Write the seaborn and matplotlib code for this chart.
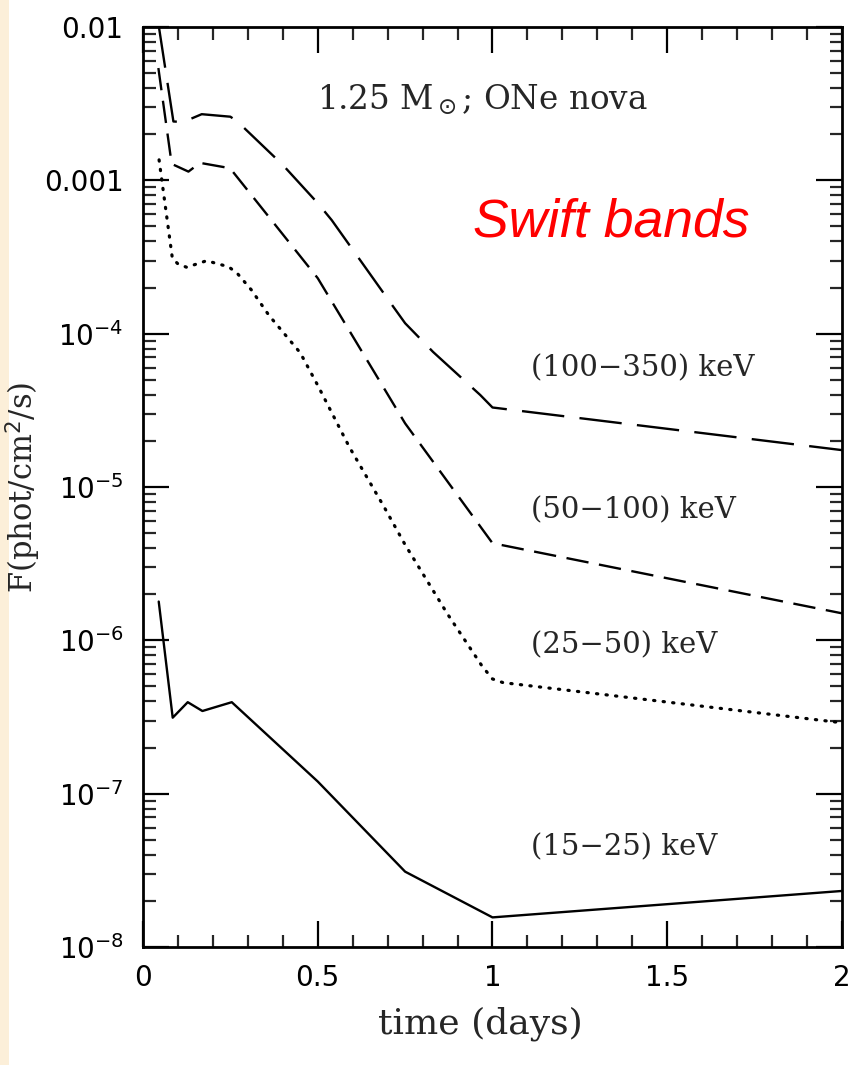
import numpy as np
import pandas as pd
import matplotlib
matplotlib.use("Agg")
import matplotlib.pyplot as plt
import seaborn as sns
from matplotlib.patches import Rectangle
from matplotlib.ticker import FixedLocator, FixedFormatter, MultipleLocator

# ---- data ----
t_hard = [0.045, 0.087, 0.115, 0.168, 0.25, 0.27, 0.40, 0.50, 0.54, 0.716, 0.75, 0.83, 0.965, 1.0, 2.0]
f_hard = [1.02e-2, 2.42e-3, 2.4e-3, 2.7e-3, 2.6e-3, 2.42e-3, 1.26e-3, 7.1e-4, 5.5e-4, 1.5e-4, 1.17e-4, 7.6e-5, 3.98e-5, 3.3e-5, 1.74e-5]

t_mid = [0.044, 0.082, 0.13, 0.163, 0.249, 0.50, 0.75, 1.0, 2.0]
f_mid = [5.4e-3, 1.28e-3, 1.14e-3, 1.3e-3, 1.2e-3, 2.3e-4, 2.6e-5, 4.3e-6, 1.5e-6]

t_soft = [0.046, 0.084, 0.10, 0.125, 0.182, 0.245, 0.27, 0.31, 0.36, 0.45, 0.50, 0.59, 0.69, 0.75, 0.87, 0.97, 1.0, 1.03, 2.0]
f_soft = [1.36e-3, 3.1e-4, 2.85e-4, 2.71e-4, 2.99e-4, 2.73e-4, 2.47e-4, 1.93e-4, 1.32e-4, 7.5e-5, 4.6e-5, 1.83e-5, 7.4e-6, 4.2e-6, 1.5e-6, 6.8e-7, 5.6e-7, 5.3e-7, 2.9e-7]

t_low = [0.045, 0.085, 0.128, 0.17, 0.254, 0.50, 0.75, 1.0, 2.0]
f_low = [1.79e-6, 3.13e-7, 3.95e-7, 3.46e-7, 3.95e-7, 1.2e-7, 3.1e-8, 1.56e-8, 2.32e-8]

band_labels = ["(100\u2212350) keV", "(50\u2212100) keV", "(25\u221250) keV", "(15\u221225) keV"]
ytick_vals = [1e-8, 1e-7, 1e-6, 1e-5, 1e-4, 1e-3, 1e-2]
ytick_text = ["10$^{-8}$", "10$^{-7}$", "10$^{-6}$", "10$^{-5}$", "10$^{-4}$", "0.001", "0.01"]
xtick_vals = [0, 0.5, 1, 1.5, 2]
xtick_text = ["0", "0.5", "1", "1.5", "2"]

sns.set_style("ticks")
plt.rcParams["font.family"] = ["DejaVu Sans"]
plt.rcParams["mathtext.fontset"] = "dejavusans"

fig = plt.figure(figsize=(8.54, 10.65), dpi=100)
fig.patch.set_facecolor("white")
fig.patches.append(Rectangle((0, 0), 9 / 854, 1, transform=fig.transFigure,
                             facecolor="#fcefd9", edgecolor="none", zorder=-5))
ax = fig.add_axes([143 / 854, 1 - 947 / 1065, (842 - 143) / 854, (947 - 27) / 1065])

lw = 1.7
DOT = (0.4, 2.6)
series = [
    (t_hard, f_hard, (18, 6.5), lw),
    (t_mid, f_mid, (9.5, 4.5), lw),
    (t_soft, f_soft, DOT, 2.3),
    (t_low, f_low, None, lw),
]
for tx, fy, dash, w in series:
    df = pd.DataFrame({"t": tx, "F": fy})
    sns.lineplot(data=df, x="t", y="F", ax=ax, color="black", lw=w, sort=False)
    line = ax.lines[-1]
    if dash is not None:
        line.set_dashes(dash)
    line.set_solid_joinstyle("round")
    line.set_dash_capstyle("round" if dash == DOT else "butt")

ax.set_yscale("log")
ax.set_xlim(0, 2)
ax.set_ylim(1e-8, 1e-2)

ax.yaxis.set_major_locator(FixedLocator(ytick_vals))
ax.yaxis.set_major_formatter(FixedFormatter(ytick_text))
ax.xaxis.set_major_locator(FixedLocator(xtick_vals))
ax.xaxis.set_major_formatter(FixedFormatter(xtick_text))
ax.xaxis.set_minor_locator(MultipleLocator(0.1))
ax.yaxis.set_minor_locator(matplotlib.ticker.LogLocator(base=10, subs=np.arange(2, 10), numticks=20))
ax.yaxis.set_minor_formatter(matplotlib.ticker.NullFormatter())

ax.tick_params(which="major", direction="in", length=19, width=1.6, top=True, right=True,
               labelsize=20, colors="black")
ax.tick_params(axis="y", which="major", pad=14)
ax.tick_params(axis="x", which="major", pad=12)
ax.tick_params(which="minor", direction="in", length=9, width=1.6, top=True, right=True)
for s in ax.spines.values():
    s.set_linewidth(2.0)
    s.set_color("black")

serif = ["DejaVu Serif"]
ax.set_xlabel("time (days)", family=serif, fontsize=26)
ax.set_ylabel("F(phot/cm$^2$/s)", family=serif, fontsize=22)
ax.xaxis.set_label_coords(0.482, -0.065)
ax.yaxis.set_label_coords(-0.143, 0.5)

ax.text(0.485, 0.9207, "1.25 M$_\\odot$; ONe nova", transform=ax.transAxes,
        ha="center", va="center", fontsize=23.5, family=serif)
ax.text(0.67, 0.787, "Swift bands", transform=ax.transAxes, ha="center", va="center",
        fontsize=38.5, color="red", style="italic", family=["Liberation Sans"])

for lab, yv in zip(band_labels, [0.629, 0.475, 0.328, 0.108]):
    ax.text(0.555, yv, lab, transform=ax.transAxes, ha="left", va="center",
            fontsize=21, family=serif)

fig.savefig("out.png", dpi=100, facecolor="white")
